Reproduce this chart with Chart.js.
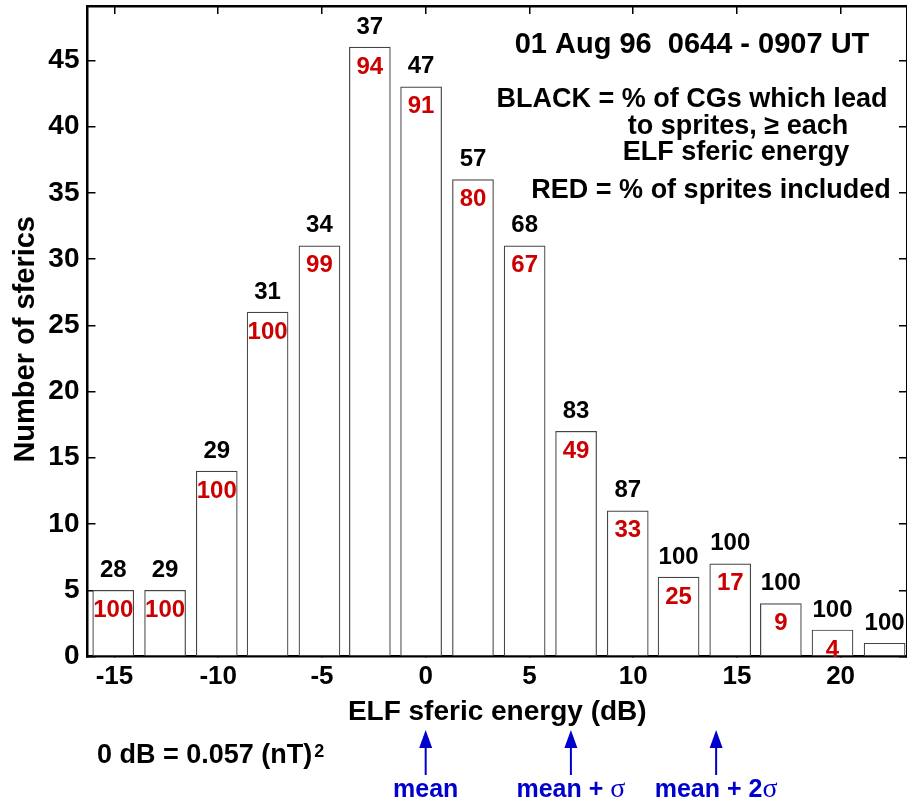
<!DOCTYPE html>
<html>
<head>
<meta charset="utf-8">
<script src="https://cdn.jsdelivr.net/npm/chart.js@4"></script>
<style>
  body { margin: 0; background: #fff; }
</style>
</head>
<body>
<canvas id="chart" width="907" height="803"></canvas>
<script>
// bin centres in dB
const energyDb = [-15.06, -12.56, -10.07, -7.62, -5.12, -2.69, -0.22, 2.28, 4.77, 7.25, 9.74, 12.19, 14.68, 17.12, 19.61, 22.12];
const sfericCounts = [5, 5, 14, 26, 31, 46, 43, 36, 31, 17, 11, 6, 7, 4, 2, 1];
// BLACK = % of CGs which lead to sprites
const cgPercent = [28, 29, 29, 31, 34, 37, 47, 57, 68, 83, 87, 100, 100, 100, 100, 100];
// RED = % of sprites included
const spritePercent = [100, 100, 100, 100, 99, 94, 91, 80, 67, 49, 33, 25, 17, 9, 4, null];

// arrows under the axis
const markerDb = [0, 7, 14];
const markerText = ['mean', 'mean + σ', 'mean + 2σ'];

const FONT = '"Liberation Sans", Arial, Helvetica, sans-serif';
const RED = '#cc0000';
const BLUE = '#0000cc';

Chart.defaults.font.family = FONT;
Chart.defaults.color = '#000';

function tickGrid() {
  // negative tickLength -> tick marks point into the plot
  return { drawOnChartArea: false, drawTicks: true, tickLength: -8, color: '#000', lineWidth: 1.5, offset: false };
}
const frame = { display: true, color: '#000', width: 2.5 };

const notesPlugin = {
  id: 'notes',
  afterDatasetsDraw(chart) {
    const ctx = chart.ctx;
    const bars = chart.getDatasetMeta(0).data;
    ctx.save();
    ctx.font = 'bold 24px ' + FONT;
    ctx.textAlign = 'center';
    ctx.textBaseline = 'middle';
    bars.forEach((bar, i) => {
      ctx.fillStyle = '#000';
      ctx.fillText(String(cgPercent[i]), bar.x, bar.y - 20);
      if (spritePercent[i] !== null) {
        ctx.fillStyle = RED;
        ctx.fillText(String(spritePercent[i]), bar.x, bar.y + 20);
      }
    });
    ctx.restore();
  },
  afterDraw(chart) {
    const ctx = chart.ctx;
    const xs = chart.scales.x;
    ctx.save();
    ctx.fillStyle = '#000';
    ctx.textBaseline = 'alphabetic';
    ctx.textAlign = 'center';
    ctx.font = 'bold 29px ' + FONT;
    ctx.fillText('01 Aug 96  0644 - 0907 UT', 692, 53);
    ctx.font = 'bold 27px ' + FONT;
    ctx.fillText('BLACK = % of CGs which lead', 692, 107);
    ctx.fillText('to sprites, \u2265 each', 738, 134);
    ctx.fillText('ELF sferic energy', 736, 160);
    ctx.fillText('RED = % of sprites included', 711, 198);

    // reference level note
    ctx.textAlign = 'left';
    const note = '0 dB = 0.057 (nT)';
    ctx.fillText(note, 97, 763);
    const w = ctx.measureText(note).width;
    ctx.font = 'bold 18px ' + FONT;
    ctx.fillText('2', 97 + w + 2, 757);

    // mean / sigma arrows
    ctx.fillStyle = BLUE;
    ctx.strokeStyle = BLUE;
    ctx.lineWidth = 2;
    markerDb.forEach((v, i) => {
      const px = xs.getPixelForValue(v);
      ctx.beginPath();
      ctx.moveTo(px, 775);
      ctx.lineTo(px, 746);
      ctx.stroke();
      ctx.beginPath();
      ctx.moveTo(px, 730);
      ctx.lineTo(px - 6.5, 748);
      ctx.lineTo(px + 6.5, 748);
      ctx.closePath();
      ctx.fill();

      // sigma is drawn in a serif face like the original
      const parts = markerText[i].split('σ');
      const sansFont = 'bold 25px ' + FONT;
      const serifFont = '28px "Liberation Serif", "DejaVu Serif", serif';
      ctx.font = sansFont;
      const w0 = ctx.measureText(parts[0]).width;
      let wS = 0;
      if (parts.length > 1) {
        ctx.font = serifFont;
        wS = ctx.measureText('σ').width;
      }
      let x0 = px - (w0 + wS) / 2;
      ctx.font = sansFont;
      ctx.fillText(parts[0], x0, 797);
      if (parts.length > 1) {
        ctx.font = serifFont;
        ctx.fillText('σ', x0 + w0, 797);
      }
    });
    ctx.restore();
  }
};

const ctxEl = document.getElementById('chart');
const chart = new Chart(ctxEl, {
  type: 'bar',
  data: {
    datasets: [{
      data: energyDb.map((x, i) => ({ x: x, y: sfericCounts[i] })),
      backgroundColor: '#fff',
      borderColor: '#444',
      borderWidth: 1.2,
      borderSkipped: false,
      barThickness: 41
    }]
  },
  options: {
    responsive: false,
    animation: false,
    layout: { padding: 0 },
    plugins: {
      legend: { display: false },
      tooltip: { enabled: false }
    },
    scales: {
      x: {
        type: 'linear',
        position: 'bottom',
        min: -16.3,
        max: 23.2,
        offset: false,
        grid: tickGrid(),
        border: frame,
        ticks: { stepSize: 5, includeBounds: false, padding: 12.5, maxRotation: 0, autoSkip: false,
                 font: { size: 26, weight: 'bold' } },
        title: { display: true, text: 'ELF sferic energy (dB)', font: { size: 28, weight: 'bold' },
                 padding: { top: 0, bottom: 74 } },
        afterFit(s) { s.height = 146.5; s.paddingLeft = 0; s.paddingRight = 0; }
      },
      x2: {
        type: 'linear',
        position: 'top',
        min: -16.3,
        max: 23.2,
        offset: false,
        grid: tickGrid(),
        border: frame,
        ticks: { display: false, stepSize: 5, includeBounds: false },
        afterFit(s) { s.height = 6; s.paddingLeft = 0; s.paddingRight = 0; }
      },
      y: {
        position: 'left',
        min: 0,
        max: 49.1,
        grid: tickGrid(),
        border: frame,
        ticks: { stepSize: 5, includeBounds: false, padding: 16, font: { size: 28, weight: 'bold' } },
        // two trailing spaces push the rotated title a bit lower, as in the original
        title: { display: true, text: 'Number of sferics  ', font: { size: 29, weight: 'bold' },
                 padding: { top: 9, bottom: 0 } },
        afterFit(s) { s.width = 87.5; s.paddingTop = 0; s.paddingBottom = 0; }
      },
      y2: {
        position: 'right',
        min: 0,
        max: 49.1,
        grid: tickGrid(),
        border: frame,
        ticks: { display: false, stepSize: 5, includeBounds: false },
        afterFit(s) { s.width = 0; s.paddingTop = 0; s.paddingBottom = 0; }
      }
    }
  },
  plugins: [notesPlugin]
});
</script>
</body>
</html>
